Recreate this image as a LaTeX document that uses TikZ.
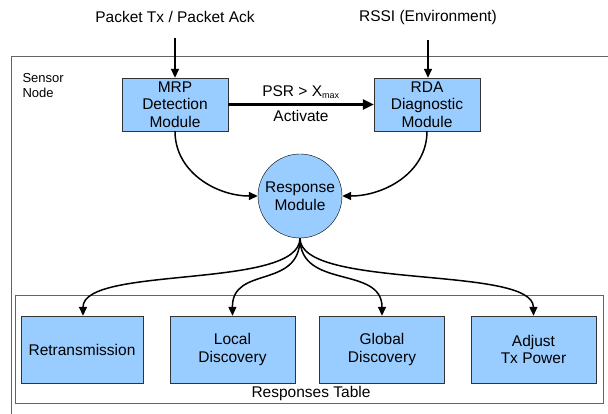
\documentclass[tikz,border=0pt]{standalone}
\usepackage{fontspec}
\setmainfont{Liberation Sans}
\usetikzlibrary{positioning,arrows.meta}
\definecolor{boxblue}{RGB}{153,204,255}
\definecolor{boxline}{RGB}{51,51,51}
\definecolor{frameline}{RGB}{100,100,100}
\begin{document}
\begin{tikzpicture}[x=1pt,y=-1pt,
        font=\fontsize{15.5}{17.5}\selectfont,
        module/.style={draw=boxline, fill=boxblue, align=center, inner sep=0pt},
        arr/.style={-{Triangle[length=9pt,width=8pt]}, line width=1.5pt}]

        \useasboundingbox (0,0) rectangle (608,414);

        % Sensor node frame
        \draw[frameline, line width=1pt] (11,57) rectangle (620,430);
        \node[anchor=north west, align=left, font=\fontsize{13}{15}\selectfont] (sensor) at (19,70) {Sensor\\Node};

        % Inputs
        \node (pkt) at (175,17) {Packet Tx / Packet Ack};
        \node (rssi) at (428,17) {RSSI (Environment)};

        % Modules
        \node[module, minimum width=106pt, minimum height=53pt] (mrp) at (175,104.5) {MRP\\Detection\\Module};
        \node[module, minimum width=106pt, minimum height=53pt] (rda) at (427,104.5) {RDA\\Diagnostic\\Module};
        \node[module, circle, minimum size=84pt, draw=black] (resp) at (300,196) {Response\\Module};

        % Responses table
        \draw[frameline, line width=0.8pt] (15,295) rectangle (603,403);
        \node (table) at (311,393) {Responses Table};
        \node[module, minimum width=122pt, minimum height=67pt] (retx) at (82,349.5) {Retransmission};
        \node[module, minimum width=125pt, minimum height=67pt] (local) at (232.5,349.5) {Local\\Discovery};
        \node[module, minimum width=125pt, minimum height=67pt] (global) at (382,349.5) {Global\\Discovery};
        \node[module, minimum width=125pt, minimum height=67pt] (adjust) at (533.5,349.5) {Adjust\\Tx Power};

        % Input arrows
        \draw[arr] ([yshift=-12pt]pkt.south) -- (mrp.north -| pkt);
        \draw[arr] ([yshift=-12pt]rssi.south) -- (rda.north -| rssi);

        % Activation
        \draw[-{Triangle[length=11pt,width=10pt]}, line width=3pt] (mrp) -- (rda)
            node[midway, above=1pt] {PSR > X\textsubscript{\fontsize{9}{9}\selectfont max}}
            node[midway, below=1pt] {Activate};

        % Into response module
        \draw[arr] (mrp.south) to[out=-90, in=180] (resp.west);
        \draw[arr] (rda.south) to[out=-90, in=0] (resp.east);

        % Fan out to responses
        \draw[arr] (resp.south) .. controls (300,290) and (83,265) .. ([xshift=1pt]retx.north);
        \draw[arr] (resp.south) .. controls (300,290) and (232,265) .. (local.north);
        \draw[arr] (resp.south) .. controls (300,290) and (382,265) .. (global.north);
        \draw[arr] (resp.south) .. controls (300,290) and (533,265) .. (adjust.north);
    \end{tikzpicture}
\end{document}
